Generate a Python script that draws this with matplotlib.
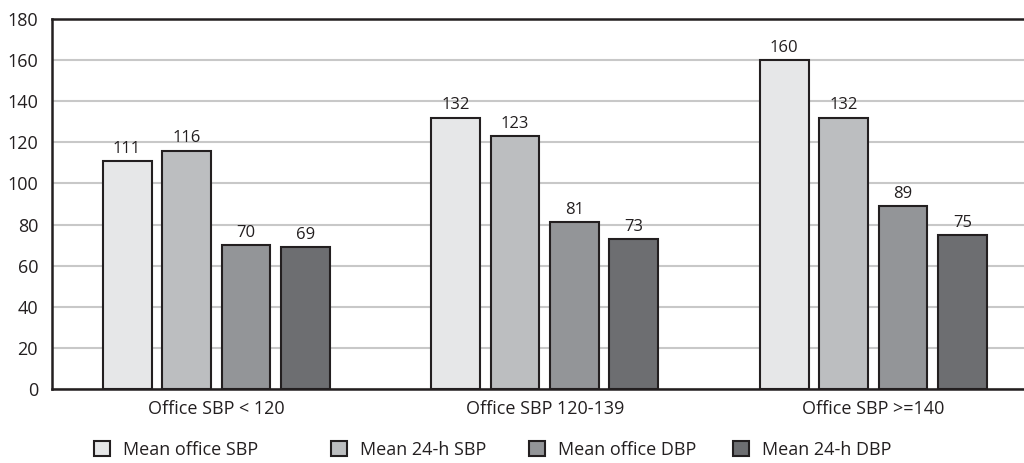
import matplotlib
matplotlib.use("Agg")
import matplotlib.pyplot as plt
from matplotlib.patches import Patch
import numpy as np

plt.rcParams['font.family'] = ['Open Sans', 'DejaVu Sans']

categories = ["Office SBP < 120", "Office SBP 120-139", "Office SBP >=140"]
series_names = ["Mean office SBP", "Mean 24-h SBP", "Mean office DBP", "Mean 24-h DBP"]
mean_office_sbp = [111, 132, 160]
mean_24h_sbp = [116, 123, 132]
mean_office_dbp = [70, 81, 89]
mean_24h_dbp = [69, 73, 75]
series_values = [mean_office_sbp, mean_24h_sbp, mean_office_dbp, mean_24h_dbp]
y_ticks = [0, 20, 40, 60, 80, 100, 120, 140, 160, 180]

colors = ["#e6e7e8", "#bcbec0", "#939598", "#6d6e71"]
ink = "#231f20"

W, H = 1024, 463
fig = plt.figure(figsize=(W / 100, H / 100), dpi=100)
ax = fig.add_axes([52 / W, 1 - 389 / H, (1037.5 - 52) / W, (389 - 19) / H])

x = np.arange(len(categories))
pitch = 0.181
width = 0.149
for i, (vals, col) in enumerate(zip(series_values, colors)):
    pos = x + (i - 1.5) * pitch
    bars = ax.bar(pos, vals, width=width, color=col, edgecolor=ink,
                  linewidth=1.5, zorder=3)
    ax.bar_label(bars, labels=[str(v) for v in vals], padding=3,
                 fontsize=12, color=ink)

ax.set_xlim(-0.5, 2.5)
ax.set_ylim(0, 180)
ax.set_yticks(y_ticks)
ax.set_xticks(x)
ax.set_xticklabels(categories)
ax.tick_params(axis='y', length=0, pad=10, labelsize=13, labelcolor=ink)
ax.tick_params(axis='x', length=0, pad=8, labelsize=13, labelcolor=ink)
ax.yaxis.grid(True, color="#c8c8c8", linewidth=1.5, zorder=0)
ax.set_axisbelow(True)
for side in ["left", "top", "bottom", "right"]:
    ax.spines[side].set_color(ink)
    ax.spines[side].set_linewidth(1.8)

# legend entries placed individually along the bottom
legend_x = [94, 331, 529, 733]
for name, col, lx in zip(series_names, colors, legend_x):
    leg = fig.legend(handles=[Patch(facecolor=col, edgecolor=ink, linewidth=1.5)],
                     labels=[name], loc="center left",
                     bbox_to_anchor=(lx / W, 1 - 450 / H), frameon=False,
                     borderpad=0, borderaxespad=0, handlelength=0.9,
                     handleheight=0.9, handletextpad=0.7, fontsize=13)
    for t in leg.get_texts():
        t.set_color(ink)

fig.savefig("out.png", dpi=100)
